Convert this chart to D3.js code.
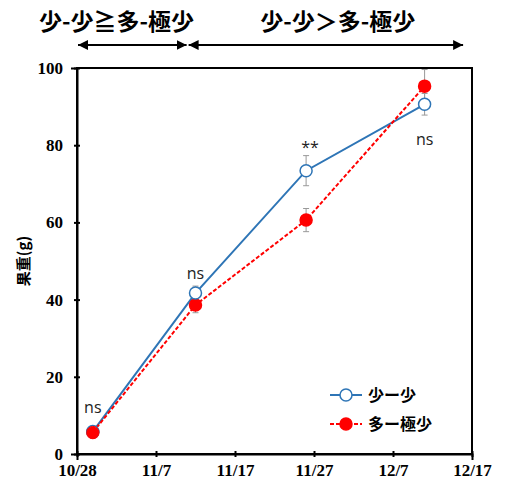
<!DOCTYPE html>
<html>
<head>
<meta charset="utf-8">
<script src="https://cdn.jsdelivr.net/npm/d3@7"></script>
<style>
  body { margin: 0; background: #fff; }
  svg { display: block; }
</style>
</head>
<body>
<svg id="chart" width="510" height="489"></svg>
<script>
// data (year is arbitrary, only month/day matter)
const dates = ['2019-10-30', '2019-11-12', '2019-11-26', '2019-12-11'];
const shoShoMean = [5.8, 41.7, 73.4, 90.6];
const shoShoErr = [1.0, 1.8, 3.9, 2.8];
const taKyokuMean = [5.6, 38.6, 60.6, 95.3];
const taKyokuErr = [1.0, 2.0, 3.0, 4.3];
const signif = ['ns', 'ns', '**', 'ns'];
const tickDates = ['2019-10-28', '2019-11-07', '2019-11-17', '2019-11-27', '2019-12-07', '2019-12-17'];
const yTicks = [0, 20, 40, 60, 80, 100];

const parse = d3.timeParse('%Y-%m-%d');
const svg = d3.select('#chart');
const margin = {left: 77, right: 38, top: 68, bottom: 35};
const width = 510, height = 489;

const x = d3.scaleTime()
  .domain([parse(tickDates[0]), parse(tickDates[tickDates.length - 1])])
  .range([margin.left, width - margin.right]);
const y = d3.scaleLinear()
  .domain([0, 100])
  .range([height - margin.bottom, margin.top]);

// frame around the plot
svg.append('rect')
  .attr('x', x.range()[0]).attr('y', y(100))
  .attr('width', x.range()[1] - x.range()[0])
  .attr('height', y(0) - y(100))
  .attr('fill', 'none').attr('stroke', '#000').attr('stroke-width', 2);

const tickFont = (g) => g.selectAll('text')
  .attr('font-family', '"Liberation Serif", serif')
  .attr('font-weight', 'bold')
  .attr('font-size', 17)
  .attr('fill', '#000');

svg.append('g')
  .attr('transform', `translate(0,${y(0)})`)
  .call(d3.axisBottom(x).tickValues(tickDates.map(parse)).tickFormat(d3.timeFormat('%-m/%-d')).tickSize(6).tickPadding(4))
  .call((g) => g.select('.domain').attr('stroke-width', 2))
  .call((g) => g.selectAll('.tick line').attr('stroke-width', 2).attr('transform', 'translate(0,-3)'))
  .call(tickFont);

svg.append('g')
  .attr('transform', `translate(${x.range()[0]},0)`)
  .call(d3.axisLeft(y).tickValues(yTicks).tickSize(6).tickPadding(8))
  .call((g) => g.select('.domain').attr('stroke-width', 2))
  .call((g) => g.selectAll('.tick line').attr('stroke-width', 2).attr('transform', 'translate(3,0)'))
  .call(tickFont);

svg.append('text')
  .attr('transform', `translate(29,${(y(0) + y(100)) / 2}) rotate(-90)`)
  .attr('text-anchor', 'middle')
  .attr('font-family', '"Noto Sans CJK JP", sans-serif')
  .attr('font-weight', 'bold')
  .attr('font-size', 15)
  .text('果重(g)');

const series = [
  {name: '少ー少', mean: shoShoMean, err: shoShoErr, color: '#2e75b6', fill: '#fff', dash: null},
  {name: '多ー極少', mean: taKyokuMean, err: taKyokuErr, color: '#ff0000', fill: '#ff0000', dash: '4 2'},
];

const plot = svg.append('g');

// error bars
for (const s of series) {
  const eb = plot.append('g');
  s.mean.forEach((m, i) => {
    const cx = x(parse(dates[i]));
    eb.append('line')
      .attr('x1', cx).attr('x2', cx)
      .attr('y1', y(m - s.err[i])).attr('y2', y(m + s.err[i]))
      .attr('stroke', '#999').attr('stroke-width', 1);
    for (const v of [m - s.err[i], m + s.err[i]]) {
      eb.append('line')
        .attr('x1', cx - 3).attr('x2', cx + 3)
        .attr('y1', y(v)).attr('y2', y(v))
        .attr('stroke', '#999').attr('stroke-width', 1);
    }
  });
}

const line = d3.line()
  .x((d) => x(parse(d[0])))
  .y((d) => y(d[1]));

for (const s of series) {
  const pts = dates.map((d, i) => [d, s.mean[i]]);
  plot.append('path')
    .datum(pts)
    .attr('d', line)
    .attr('fill', 'none')
    .attr('stroke', s.color)
    .attr('stroke-width', 2)
    .attr('stroke-dasharray', s.dash);
}
// red dots drawn first, blue circles on top where they overlap
for (const s of [series[1], series[0]]) {
  plot.selectAll(null)
    .data(dates.map((d, i) => [d, s.mean[i]]))
    .enter().append('circle')
    .attr('cx', (d) => x(parse(d[0])))
    .attr('cy', (d) => y(d[1]))
    .attr('r', 6)
    .attr('fill', s.fill)
    .attr('stroke', s.color)
    .attr('stroke-width', 1.5);
}
// the first point shows red on top in the picture
plot.append('circle')
  .attr('cx', x(parse(dates[0]))).attr('cy', y(taKyokuMean[0]))
  .attr('r', 6).attr('fill', '#ff0000').attr('stroke', '#ff0000');

// significance labels (last one sits below the points)
signif.forEach((t, i) => {
  const isStar = t === '**';
  const top = Math.max(shoShoMean[i], taKyokuMean[i]);
  const low = Math.min(shoShoMean[i], taKyokuMean[i]);
  let ty;
  if (i === 3) ty = y(low) + 41;
  else if (isStar) ty = y(top) - 18;
  else if (i === 0) ty = y(top) - 19;
  else ty = y(top) - 14;
  plot.append('text')
    .attr('x', x(parse(dates[i])) + (isStar ? 4 : 0))
    .attr('y', ty)
    .attr('text-anchor', 'middle')
    .attr('font-family', '"Open Sans", sans-serif')
    .attr('font-size', 16)
    .attr('fill', '#222')
    .text(t);
});

// legend
const legend = svg.append('g').attr('transform', 'translate(330,395)');
series.forEach((s, i) => {
  const g = legend.append('g').attr('transform', `translate(0,${i * 29})`);
  g.append('line').attr('x1', 0).attr('x2', 32)
    .attr('stroke', s.color).attr('stroke-width', 2).attr('stroke-dasharray', s.dash);
  g.append('circle').attr('cx', 16).attr('r', 6)
    .attr('fill', s.fill).attr('stroke', s.color).attr('stroke-width', 1.5);
  g.append('text').attr('x', 38).attr('y', 6)
    .attr('font-family', '"Noto Sans CJK JP", sans-serif')
    .attr('font-weight', 'bold').attr('font-size', 16)
    .text(s.name);
});

// period arrows on top
const periods = [
  {label: '少-少≧多-極少', from: '2019-10-28', to: '2019-11-11', labelAt: '2019-11-02'},
  {label: '少-少＞多-極少', from: '2019-11-11', to: '2019-12-16', labelAt: '2019-11-30'},
];
const defs = svg.append('defs');
defs.append('marker')
  .attr('id', 'head').attr('viewBox', '0 0 10 10')
  .attr('refX', 10).attr('refY', 5)
  .attr('markerWidth', 5).attr('markerHeight', 5)
  .attr('orient', 'auto-start-reverse')
  .append('path').attr('d', 'M0,0L10,5L0,10Z').attr('fill', '#000');

for (const p of periods) {
  const x1 = x(parse(p.from)), x2 = x(parse(p.to));
  svg.append('line')
    .attr('x1', x1 + 1).attr('x2', x2 - 1)
    .attr('y1', 45).attr('y2', 45)
    .attr('stroke', '#000').attr('stroke-width', 2)
    .attr('marker-start', 'url(#head)').attr('marker-end', 'url(#head)');
  svg.append('text')
    .attr('x', x(parse(p.labelAt))).attr('y', 30)
    .attr('text-anchor', 'middle')
    .attr('font-family', '"Noto Sans CJK JP", sans-serif')
    .attr('font-weight', 'bold').attr('font-size', 23)
    .text(p.label);
}
</script>
</body>
</html>
